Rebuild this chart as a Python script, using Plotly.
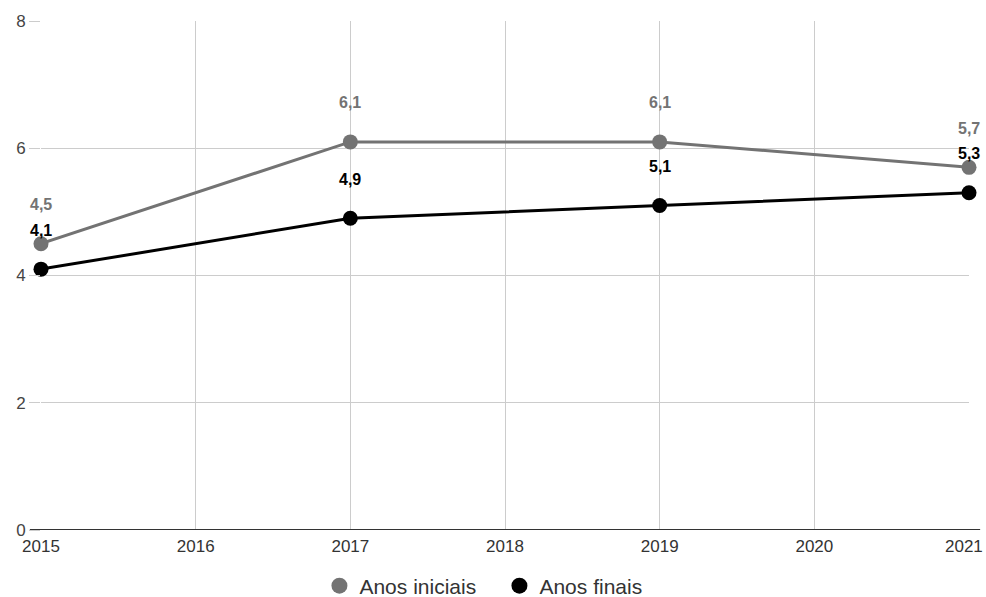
import plotly.graph_objects as go

years = [2015, 2017, 2019, 2021]
anos_iniciais = [4.5, 6.1, 6.1, 5.7]
anos_finais = [4.1, 4.9, 5.1, 5.3]
series_names = ["Anos iniciais", "Anos finais"]
labels_iniciais = ["4,5", "6,1", "6,1", "5,7"]
labels_finais = ["4,1", "4,9", "5,1", "5,3"]
x_ticks = [2015, 2016, 2017, 2018, 2019, 2020, 2021]
y_ticks = [0, 2, 4, 6, 8]

GRAY = "#737373"
BLACK = "#000000"
FONT = "Liberation Sans, Arial, sans-serif"

fig = go.Figure()
for ys, name, col in [(anos_iniciais, series_names[0], GRAY), (anos_finais, series_names[1], BLACK)]:
    fig.add_trace(go.Scatter(x=years, y=ys, name=name, mode="lines+markers", showlegend=False,
                             line=dict(color=col, width=3), marker=dict(size=15, color=col),
                             cliponaxis=False))
# legend-only marker entries
for name, col in [(series_names[0], GRAY), (series_names[1], BLACK)]:
    fig.add_trace(go.Scatter(x=[None], y=[None], name=name, mode="markers",
                             marker=dict(size=20, color=col)))

for xs, ys, labs, col in [(years, anos_iniciais, labels_iniciais, GRAY), (years, anos_finais, labels_finais, BLACK)]:
    for x, y, t in zip(xs, ys, labs):
        fig.add_annotation(x=x, y=y, text="<b>%s</b>" % t, showarrow=False, yshift=39,
                           font=dict(family=FONT, size=16, color=col))

fig.add_shape(type="line", xref="paper", yref="y", x0=-0.012, x1=1.012, y0=0, y1=0,
              line=dict(color="#333333", width=2), layer="above")

tick_text = [str(v) for v in x_ticks]
# last tick label drawn right-aligned at the page edge (as in the reference) so it is not clipped
last_label = tick_text[-1]
tick_text[-1] = ""
fig.add_annotation(x=x_ticks[-1], y=0, xref="x", yref="y", text=last_label, showarrow=False,
                   xanchor="right", yanchor="middle", xshift=16, yshift=-16,
                   font=dict(family=FONT, size=17, color="#333333"))

fig.update_layout(
    width=986, height=597,
    margin=dict(l=41, r=17, t=21, b=67),
    paper_bgcolor="white", plot_bgcolor="white",
    font=dict(family=FONT, size=17, color="#444444"),
    showlegend=True,
    legend=dict(orientation="h", x=0.494, xanchor="center", xref="paper",
                y=0.0184, yanchor="middle", yref="container", entrywidth=135,
                font=dict(family=FONT, size=21, color="#333333"), itemsizing="trace",
                traceorder="normal"),
    xaxis=dict(range=[2015, 2021], tickvals=x_ticks, ticktext=tick_text,
               showgrid=True, gridcolor="#cccccc", gridwidth=1, zeroline=False, automargin=False,
               showline=False, ticks="outside", ticklen=1, tickcolor="rgba(0,0,0,0)",
               ticklabeloverflow="allow", tickfont=dict(size=17, color="#333333")),
    yaxis=dict(range=[0, 8], tickvals=y_ticks, showgrid=True, gridcolor="#cccccc", gridwidth=1,
               zeroline=False, showline=False, ticks="outside", ticklen=11, tickcolor="#cccccc",
               automargin=False, tickfont=dict(size=17, color="#444444")),
)

fig.write_html("out.html", config={"displayModeBar": False},
               post_script="document.body.style.margin='0';document.body.style.overflow='hidden';")
